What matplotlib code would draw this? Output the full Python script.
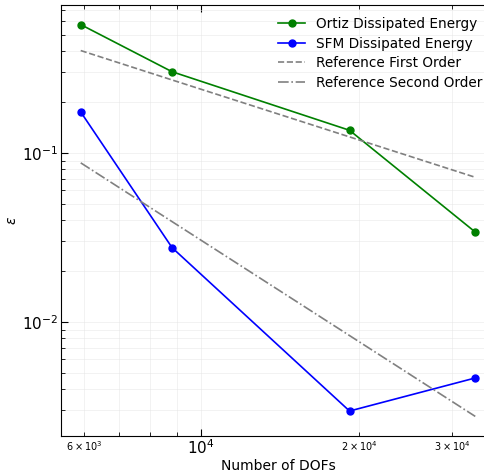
import numpy as np
import matplotlib.pyplot as plt

# Dados
dofs = np.array([5913, 8818, 19170, 33230])
ortiz = np.array([0.574, 0.302, 0.136, 0.034])
sfm = np.array([0.1746, 0.0275, 0.00297, 0.00466])
ref_first = np.array([0.403, 0.270, 0.1243, 0.0717])
ref_second = np.array([0.0873, 0.0392, 0.00830, 0.00276])

fig = plt.figure(figsize=(4.85, 4.72), dpi=100)
ax = fig.add_axes([61/485, 36/472, 434/485, 431/472])

ax.plot(dofs, ortiz, 'o-', color='green', markersize=5, linewidth=1.2, label='Ortiz Dissipated Energy')
ax.plot(dofs, sfm, 'o-', color='blue', markersize=5, linewidth=1.2, label='SFM Dissipated Energy')
ax.plot(dofs, ref_first, '--', color='gray', linewidth=1.2, label='Reference First Order')
ax.plot(dofs, ref_second, '-.', color='gray', linewidth=1.2, label='Reference Second Order')

ax.set_xscale('log')
ax.set_yscale('log')
ax.grid(True, which='both', color='#e6e6e6', linewidth=0.6, alpha=0.6)
ax.tick_params(which='both', direction='in', top=True, right=True, pad=2)
ax.tick_params(which='major', labelsize=11, length=5)
ax.tick_params(which='minor', labelsize=7, length=3)
ax.tick_params(axis='y', which='minor', labelleft=False)
ax.spines['right'].set_visible(False)

ax.set_xlabel('Number of DOFs', fontsize=10, labelpad=1)
ax.set_ylabel(r'$\epsilon$', fontsize=10)
ax.yaxis.set_label_coords(-0.097, 0.5)
ax.legend(loc='upper right', frameon=False, fontsize=9.8, labelspacing=0.4,
          bbox_to_anchor=(1.0, 1.0))

plt.savefig('out.png', dpi=100)
